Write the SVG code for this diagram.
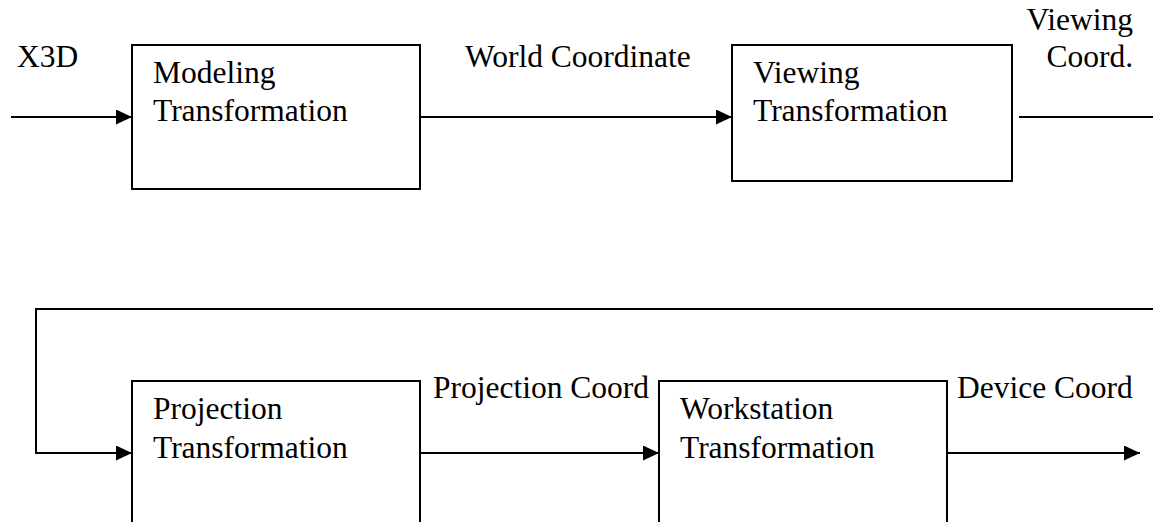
<svg xmlns="http://www.w3.org/2000/svg" width="1153" height="522" viewBox="0 0 1153 522">
<style>
.box{fill:#fff;stroke:#000;stroke-width:2}
.ln{fill:none;stroke:#000;stroke-width:2}
.t{font-family:"Liberation Serif","Times New Roman",serif;font-size:31.5px;fill:#000}
</style>
<defs>
<marker id="ah" viewBox="0 0 16 15" refX="16" refY="7.5" markerWidth="16" markerHeight="15" markerUnits="userSpaceOnUse" orient="auto">
<path d="M0,0 L16,7.5 L0,15 Z" fill="#000"/>
</marker>
</defs>
<g id="connectors">
<line class="ln" x1="11" y1="117" x2="132" y2="117" marker-end="url(#ah)"/>
<line class="ln" x1="420" y1="117" x2="732" y2="117" marker-end="url(#ah)"/>
<polyline class="ln" points="1019,117 1153,117"/>
<polyline class="ln" points="1153,309 36,309 36,453 132,453" marker-end="url(#ah)"/>
<line class="ln" x1="420" y1="453" x2="659" y2="453" marker-end="url(#ah)"/>
<line class="ln" x1="947" y1="453" x2="1140" y2="453" marker-end="url(#ah)"/>
</g>
<g id="labels">
<text class="t" x="17" y="67">X3D</text>
<text class="t" x="465" y="67">World Coordinate</text>
<text class="t" x="1133" y="30" text-anchor="end">Viewing</text>
<text class="t" x="1133" y="67" text-anchor="end">Coord.</text>
<text class="t" x="433" y="398">Projection Coord</text>
<text class="t" x="957" y="398">Device Coord</text>
</g>
<g id="modeling">
<rect class="box" x="132" y="45" width="288" height="144"/>
<text class="t" x="153" y="83">Modeling</text>
<text class="t" x="153" y="121">Transformation</text>
</g>
<g id="viewing">
<rect class="box" x="732" y="45" width="280" height="136"/>
<text class="t" x="753" y="83">Viewing</text>
<text class="t" x="753" y="121">Transformation</text>
</g>
<g id="projection">
<rect class="box" x="132" y="381" width="288" height="160"/>
<text class="t" x="153" y="419">Projection</text>
<text class="t" x="153" y="458">Transformation</text>
</g>
<g id="workstation">
<rect class="box" x="659" y="381" width="288" height="160"/>
<text class="t" x="680" y="419">Workstation</text>
<text class="t" x="680" y="458">Transformation</text>
</g>
</svg>
